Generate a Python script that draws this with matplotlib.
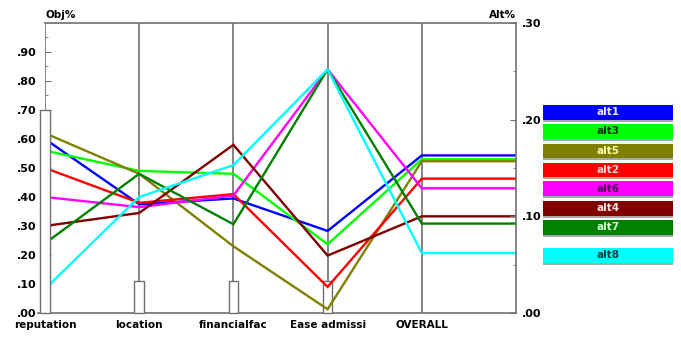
import numpy as np
import matplotlib
matplotlib.use("Agg")
import matplotlib.pyplot as plt
from matplotlib.patches import Rectangle
from matplotlib.ticker import FixedLocator

plt.rcParams["font.family"] = ["DejaVu Sans"]
plt.rcParams["font.weight"] = "bold"

# criteria axes and their weights (left scale, Obj%)
criteria = ["reputation", "location", "financialfac", "Ease admissi"]
weights = [0.70, 0.11, 0.11, 0.11]

# per-alternative scores on each criterion (left scale) and overall (right scale, Alt%)
alt_names = ["alt1", "alt3", "alt5", "alt2", "alt6", "alt4", "alt7", "alt8"]
alt1 = [0.60, 0.375, 0.395, 0.283]
alt3 = [0.56, 0.49, 0.48, 0.237]
alt5 = [0.62, 0.48, 0.23, 0.013]
alt2 = [0.50, 0.38, 0.41, 0.09]
alt6 = [0.40, 0.365, 0.405, 0.84]
alt4 = [0.30, 0.345, 0.58, 0.198]
alt7 = [0.24, 0.48, 0.306, 0.84]
alt8 = [0.083, 0.40, 0.51, 0.84]
overall = [0.163, 0.159, 0.157, 0.139, 0.129, 0.100, 0.0925, 0.062]

scores = [alt1, alt3, alt5, alt2, alt6, alt4, alt7, alt8]
colors = ["#0000ff", "#00ff00", "#808000", "#ff0000",
          "#ff00ff", "#800000", "#008000", "#00ffff"]
text_colors = ["#e8e8ff", "#003000", "#ffffb0", "#ffd0d0",
               "#500050", "#ffe0e0", "#d0ffd0", "#004040"]

W, H = 681, 340
fig = plt.figure(figsize=(W / 100, H / 100), dpi=100)
ax = fig.add_axes([45 / W, 27 / H, (516 - 45) / W, 290 / H])
ax.set_xlim(0, 5)
ax.set_ylim(0, 1)
for side in ("left", "right", "bottom"):
    ax.spines[side].set_visible(False)
ax.spines["top"].set_color("#707070")
ax.spines["top"].set_linewidth(1.2)

gray = "#707070"
xs = np.arange(len(criteria) + 1)
for x in xs:
    ax.axvline(x, color=gray, lw=1.2, zorder=1)
ax.axhline(0, xmin=-0.015, color=gray, lw=1.2, zorder=1, clip_on=False)

# weight bars
bw = 0.1
for i, w in enumerate(weights):
    z = 5 if i == 0 else 1.5
    ax.add_patch(Rectangle((i - bw / 2, 0), bw, w,
                           facecolor="white", edgecolor=gray, lw=1.0,
                           zorder=z, clip_on=False))

# alternative lines
for vals, ov, c in zip(scores, overall, colors):
    ys = list(vals) + [ov / 0.3, ov / 0.3]
    ax.plot(list(xs) + [5], ys, color=c, lw=1.7, zorder=3, solid_joinstyle="miter")

# left scale
ax.set_xticks(xs, labels=criteria + ["OVERALL"])
ax.tick_params(axis="x", length=0, pad=5, labelsize=7.5)
ax.set_yticks(np.arange(0, 1.0, 0.1),
              labels=["." + f"{v:.2f}".split(".")[1] for v in np.arange(0, 1.0, 0.1)])
ax.yaxis.set_minor_locator(FixedLocator(np.arange(0.05, 1.0, 0.1)))
ax.tick_params(axis="y", which="both", direction="in", length=4, color=gray,
               labelsize=8, pad=6)
ax.tick_params(axis="y", which="minor", length=2.5)

# right scale
ax2 = ax.twinx()
ax2.set_ylim(0, 0.3)
for side in ("left", "top", "bottom"):
    ax2.spines[side].set_visible(False)
ax2.spines["right"].set_color(gray)
ax2.spines["right"].set_linewidth(1.2)
ax2.set_yticks([0, 0.1, 0.2, 0.3], labels=[".00", ".10", ".20", ".30"])
ax2.yaxis.set_minor_locator(FixedLocator([0.05, 0.15, 0.25]))
ax2.tick_params(axis="y", which="both", direction="in", length=4, color=gray,
                labelsize=8, pad=4)
ax2.tick_params(axis="y", which="minor", length=2.5)

fig.text(45 / W, 1 - 15 / H, "Obj%", fontsize=7.5, ha="left", va="center")
fig.text(516 / W, 1 - 15 / H, "Alt%", fontsize=7.5, ha="right", va="center")

# legend boxes
tops = [105, 124, 143.5, 162.5, 181.5, 201, 220, 248]
x0, x1 = 543, 673
bh = 14.5
for name, c, tc, t in zip(alt_names, colors, text_colors, tops):
    fig.add_artist(Rectangle((x0 / W, 1 - (t + bh + 2.2) / H), (x1 - x0) / W, 2 / H,
                             transform=fig.transFigure, facecolor="#a8a8a8",
                             edgecolor="none"))
    fig.add_artist(Rectangle((x0 / W, 1 - (t + bh) / H), (x1 - x0) / W, bh / H,
                             transform=fig.transFigure, facecolor=c,
                             edgecolor="none"))
    fig.text((x0 + x1) / 2 / W, 1 - (t + bh / 2) / H, name, color=tc,
             fontsize=7.5, ha="center", va="center")

fig.savefig("out.png", dpi=100)
